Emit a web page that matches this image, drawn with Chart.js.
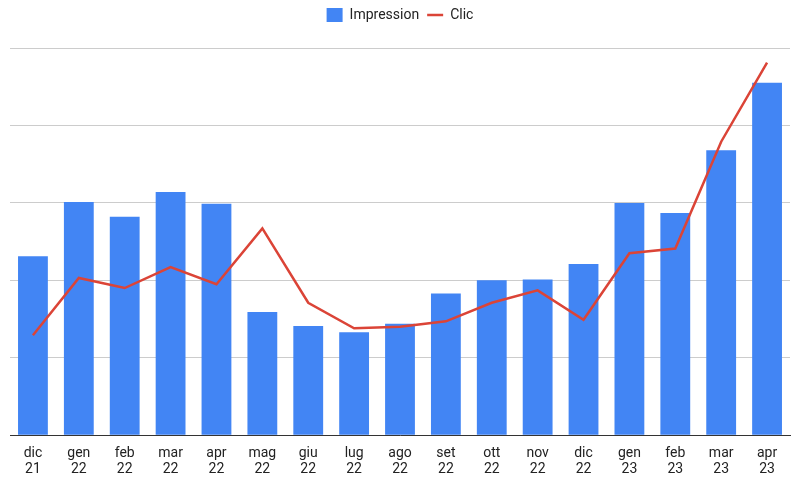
<!DOCTYPE html>
<html><head><script src="https://cdn.jsdelivr.net/npm/chart.js@4"></script>
<style>body{margin:0;background:#fff}#w{width:800px;height:480px}</style></head>
<body><div id="w"><canvas id="c"></canvas></div>
<script>
const categories=[["dic","21"],["gen","22"],["feb","22"],["mar","22"],["apr","22"],["mag","22"],["giu","22"],["lug","22"],["ago","22"],["set","22"],["ott","22"],["nov","22"],["dic","22"],["gen","23"],["feb","23"],["mar","23"],["apr","23"]];
const impression=[2.31,3.01,2.82,3.14,2.99,1.59,1.41,1.33,1.44,1.83,2.0,2.01,2.21,3.0,2.87,3.68,4.55];
const clic=[1.29,2.03,1.90,2.17,1.95,2.67,1.71,1.38,1.40,1.47,1.71,1.87,1.49,2.35,2.41,3.79,4.81];
const legendGap={id:'lg',beforeInit(chart){const l=chart.legend;const f=l.fit;l.fit=function(){f.call(this);this.height+=16;};}};
new Chart(document.getElementById('c'),{
plugins:[legendGap],
data:{labels:categories,datasets:[
{type:'line',label:'Clic',data:clic,borderColor:'#db4437',backgroundColor:'#db4437',borderWidth:2.5,pointRadius:0,pointStyle:'line',tension:0,order:0},
{type:'bar',label:'Impression',data:impression,backgroundColor:'#4285f4',pointStyle:'rect',categoryPercentage:0.65,barPercentage:1,order:1}]},
options:{responsive:true,maintainAspectRatio:false,animation:false,
layout:{padding:{left:10,right:10,top:0,bottom:0}},
plugins:{legend:{position:'top',reverse:true,labels:{usePointStyle:true,pointStyleWidth:16,font:{family:'Roboto',size:14},color:'#222',boxWidth:14,boxHeight:14,padding:8}},tooltip:{enabled:false}},
scales:{x:{grid:{display:false},border:{color:'#333'},ticks:{padding:3,font:{family:'Roboto',size:14,lineHeight:1.1},color:'#222',maxRotation:0,autoSkip:false}},
y:{min:0,max:5,ticks:{display:false,stepSize:1},grid:{color:'#ccc',drawTicks:false},border:{display:false}}}}});
</script></body></html>
